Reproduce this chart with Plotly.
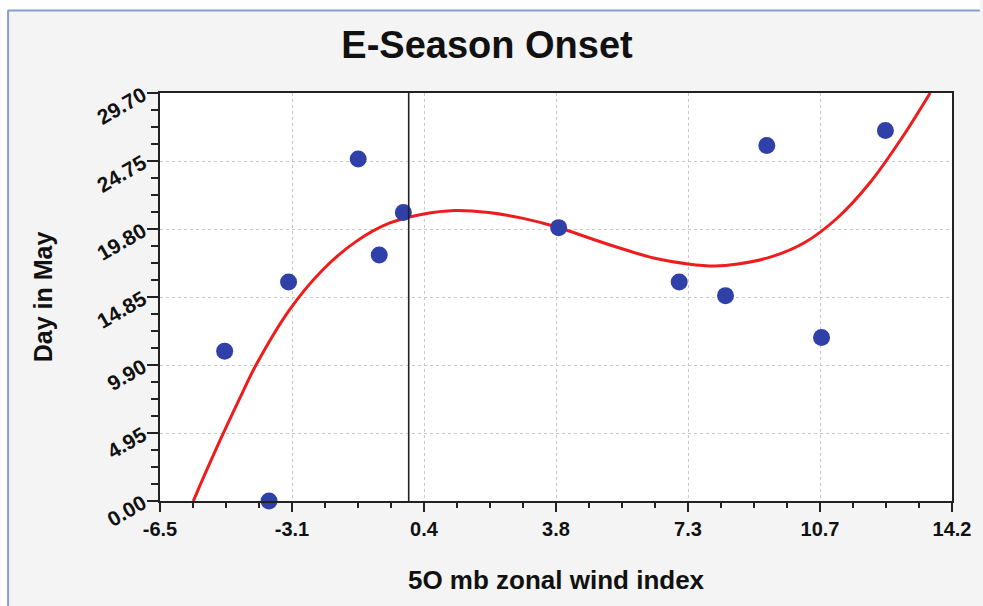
import plotly.graph_objects as go

# ---- data ----
wind_index = [-4.81, -3.65, -3.14, -1.32, -0.77, -0.14, 3.92, 7.07, 8.28, 9.36, 10.79, 12.46]
day_in_may = [10.91, 0.00, 15.94, 24.89, 17.91, 21.00, 19.90, 15.94, 14.95, 25.88, 11.91, 26.97]

fit_x = [-5.63, -5.28, -4.85, -4.42, -3.98, -3.12, -2.25, -1.38, -0.51, 0.36, 1.22, 2.09, 2.96, 3.83,
         5.13, 6.43, 7.30, 7.99, 8.60, 9.47, 10.34, 11.21, 12.07, 12.94, 13.63]
fit_y = [0.00, 2.25, 4.90, 7.45, 9.95, 13.90, 16.82, 18.88, 20.22, 20.88, 21.15, 21.00, 20.59, 19.98,
         18.76, 17.67, 17.26, 17.11, 17.25, 17.77, 18.80, 20.62, 23.22, 26.64, 29.70]

x_tickvals = [-6.5, -3.05, 0.4, 3.85, 7.3, 10.75, 14.2]
x_ticktext = ["-6.5", "-3.1", "0.4", "3.8", "7.3", "10.7", "14.2"]
y_tickvals = [0.0, 4.95, 9.90, 14.85, 19.80, 24.75, 29.70]
y_ticktext = ["0.00", "4.95", "9.90", "14.85", "19.80", "24.75", "29.70"]
ref_line_x = 0.0

# ---- layout geometry ----
W, H = 983, 606
L, R, T, B = 160, 28, 93, 105


def fx(px):
    return (px - L) / (W - L - R)


def fy(py):
    return (H - B - py) / (H - T - B)


FONT = "Liberation Sans, Arial, sans-serif"
INK = "#111111"

fig = go.Figure()

fig.add_trace(go.Scatter(
    x=fit_x, y=fit_y, mode="lines",
    line=dict(color="#ee1c1c", width=3, shape="spline", smoothing=0.9),
    hoverinfo="skip", showlegend=False))

fig.add_trace(go.Scatter(
    x=wind_index, y=day_in_may, mode="markers",
    marker=dict(color="#2f40a8", size=17, line=dict(width=0)),
    cliponaxis=False, showlegend=False))

# vertical reference line at x = 0
fig.add_shape(type="line", xref="x", yref="paper", x0=ref_line_x, x1=ref_line_x, y0=0, y1=1,
              line=dict(color="#222222", width=1.6), layer="above")

# outer frame: white strip at top/left, then a blue border
fig.add_shape(type="rect", xref="paper", yref="paper", x0=fx(0), x1=fx(W), y0=fy(10), y1=fy(0),
              fillcolor="white", line=dict(width=0), layer="below")
fig.add_shape(type="rect", xref="paper", yref="paper", x0=fx(0), x1=fx(7), y0=fy(H), y1=fy(0),
              fillcolor="white", line=dict(width=0), layer="below")
fig.add_shape(type="line", xref="paper", yref="paper", x0=fx(7), x1=fx(W), y0=fy(10.5), y1=fy(10.5),
              line=dict(color="#86a0c8", width=2))
fig.add_shape(type="line", xref="paper", yref="paper", x0=fx(7.5), x1=fx(7.5), y0=fy(H), y1=fy(10.5),
              line=dict(color="#86a0c8", width=2))

fig.update_layout(
    width=W, height=H,
    margin=dict(l=L, r=R, t=T, b=B, pad=0),
    paper_bgcolor="#f4f4f4",
    plot_bgcolor="white",
    title=dict(text="<b>E-Season Onset</b>", x=487 / W, xanchor="center", xref="container",
               y=1 - 45 / H, yanchor="middle", yref="container",
               font=dict(family=FONT, size=38, color=INK)),
    font=dict(family=FONT, color=INK),
)

fig.update_xaxes(
    range=[-6.5, 14.2], tickvals=x_tickvals, ticktext=[f"<b>{t}</b>" for t in x_ticktext],
    tickfont=dict(size=20, family=FONT, color=INK),
    showline=True, linecolor="#222222", linewidth=2, mirror=True,
    ticks="outside", ticklen=9, tickwidth=2, tickcolor="#222222",
    showgrid=True, gridcolor="#c8c8c8", griddash="dot", gridwidth=1,
    zeroline=False,
    minor=dict(dtick=0.8625, tick0=-6.5, ticks="outside", ticklen=5, tickwidth=2, tickcolor="#222222",
               showgrid=False),
    title=dict(text="<b>5O mb zonal wind index</b>", font=dict(size=26, family=FONT, color=INK),
               standoff=32),
)

fig.update_yaxes(
    range=[0, 29.7], tickvals=y_tickvals, ticktext=[f"<b>{t}</b>" for t in y_ticktext],
    tickfont=dict(size=21, family=FONT, color=INK), tickangle=-30,
    showline=True, linecolor="#222222", linewidth=2, mirror=True,
    ticks="outside", ticklen=11, tickwidth=2, tickcolor="#222222",
    showgrid=True, gridcolor="#c8c8c8", griddash="dot", gridwidth=1,
    zeroline=False,
    minor=dict(dtick=1.2375, tick0=0, ticks="outside", ticklen=7, tickwidth=2, tickcolor="#222222",
               showgrid=False),
    title=dict(text="<b>Day in May</b>", font=dict(size=25, family=FONT, color=INK),
               standoff=33),
)

fig.write_html("out.html", config={"displayModeBar": False},
               post_script="document.body.style.margin='0px';")
